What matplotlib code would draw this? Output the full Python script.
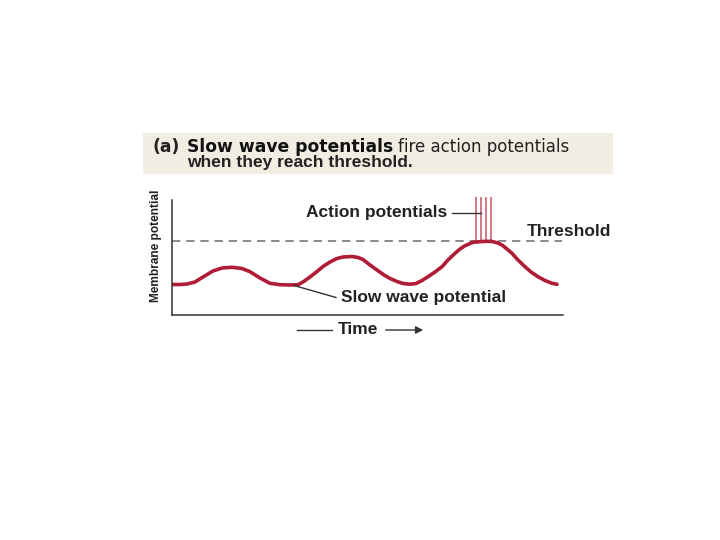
import matplotlib
matplotlib.use("Agg")
import matplotlib.pyplot as plt
from matplotlib.patches import Rectangle, FancyArrowPatch

plt.rcParams['font.family'] = ['Liberation Sans', 'DejaVu Sans']

# slow wave (time units, potential units)
time = [0, 8, 15, 23, 31, 41, 50, 60, 70, 78, 88, 98, 108, 118, 126, 131, 138,
        145, 151, 158, 165, 171, 180, 186, 191, 198, 205, 212, 218, 225, 231,
        238, 244, 250, 256, 263, 270, 276, 283, 288, 293, 301, 310, 315, 320,
        325, 330, 335, 340, 346, 353, 359, 366, 373, 380, 385]
potential = [30.5, 30.5, 31, 33, 38, 44, 47, 47.7, 46.5, 43.3, 37, 31.7, 30.3,
             30, 30.3, 33, 38, 43.5, 48.5, 53, 56.5, 58, 58.5, 57.5, 55.5, 50,
             45, 40, 36.5, 33.5, 31.5, 30.8, 31.5, 34.5, 38.3, 43, 48.3, 55,
             61.7, 66, 69.3, 72.7, 73.5, 73.7, 73.5, 72.3, 70, 66, 61.7, 55,
             48.3, 43, 38.3, 34.5, 31.7, 30.7]
threshold = 74
spike_times = [304, 309, 314, 319]
spike_top = 118

W, H = 720, 540
fig = plt.figure(figsize=(7.2, 5.4), dpi=100)


def fx(x):
    return x / W


def fy(y):
    return 1 - y / H


def fit(t, target, vertical=False):
    # scale the font so the text spans the same pixels as in the picture
    fig.canvas.draw()
    e = t.get_window_extent()
    size = e.height if vertical else e.width
    t.set_fontsize(t.get_fontsize() * target / size)


# header box
fig.patches.append(Rectangle((fx(143), fy(174)), (613 - 143) / W, (174 - 133) / H,
                             transform=fig.transFigure, facecolor='#f2ede2',
                             edgecolor='none', zorder=0))
t = fig.text(fx(153), fy(147.5), '(a)', fontsize=12, fontweight='bold',
             family='DejaVu Sans', va='center', ha='left', color='#222222')
fit(t, 27)
t = fig.text(fx(187), fy(147.5), 'Slow wave potentials', fontsize=12,
             fontweight='bold', family='DejaVu Sans', va='center', ha='left',
             color='#111111')
fit(t, 205)
t = fig.text(fx(398), fy(147.5), 'fire action potentials', fontsize=12,
             family='DejaVu Sans', va='center', ha='left', color='#222222')
fit(t, 171)
fig.text(fx(187), fy(162.5), 'when they reach threshold.', fontsize=12.5,
         fontweight='bold', va='center', ha='left', color='#222222')

# axes
ax = fig.add_axes([fx(172), fy(315), (563 - 172) / W, (315 - 197) / H])
ax.set_xlim(0, 391)
ax.set_ylim(0, 118)
ax.patch.set_alpha(0)
for s in ['top', 'right']:
    ax.spines[s].set_visible(False)
ax.spines['left'].set_bounds(0, 115)
for s in ['left', 'bottom']:
    ax.spines[s].set_color('#333333')
    ax.spines[s].set_linewidth(1.1)
ax.set_xticks([])
ax.set_yticks([])

ax.plot([0, 390], [threshold, threshold], color='#777777', lw=1.2,
        dashes=(5, 3.5))
ax.vlines(spike_times, threshold, spike_top, color='#c25566', lw=1.1,
          clip_on=False)
ax.plot(time, potential, color='#b01c36', lw=2.6, solid_joinstyle='round',
        solid_capstyle='round')

# annotations
fig.text(fx(447), fy(213), 'Action potentials', fontsize=12.5, fontweight='bold',
         ha='right', va='center', color='#222222')
fig.add_artist(plt.Line2D([fx(452), fx(481)], [fy(213), fy(213)], color='#333333',
                          lw=1))
fig.text(fx(527), fy(232), 'Threshold', fontsize=12.5, fontweight='bold',
         ha='left', va='center', color='#222222')
fig.text(fx(341), fy(297.5), 'Slow wave potential', fontsize=12.5,
         fontweight='bold', ha='left', va='center', color='#222222')
fig.add_artist(plt.Line2D([fx(294), fx(336)], [fy(285.5), fy(297.5)],
                          color='#333333', lw=1))

fig.text(fx(358), fy(330), 'Time', fontsize=12.5, fontweight='bold',
         ha='center', va='center', color='#222222')
fig.add_artist(plt.Line2D([fx(297), fx(332)], [fy(330), fy(330)], color='#333333',
                          lw=1))
fig.add_artist(FancyArrowPatch(
    (fx(383), fy(330)), (fx(426), fy(330)), transform=fig.transFigure,
    arrowstyle='-|>', mutation_scale=11, color='#333333', lw=1))

t = fig.text(fx(156), fy(246), 'Membrane potential', fontsize=10, fontweight='bold',
             rotation=90, ha='center', va='center', color='#222222')
fit(t, 112, vertical=True)

fig.savefig('out.png', dpi=100, facecolor='white')
